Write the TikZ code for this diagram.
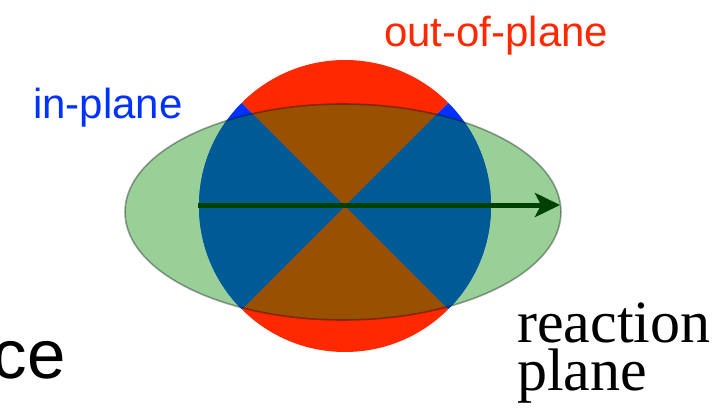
\documentclass[tikz,border=0pt]{standalone}
\usepackage{fontspec}
\setmainfont{Liberation Serif}
\newfontfamily\labelfont{Liberation Sans}
\usetikzlibrary{arrows.meta}
\definecolor{outred}{RGB}{255,40,0}
\definecolor{inblue}{RGB}{0,50,255}
\definecolor{leafgreen}{RGB}{152,208,152}
\definecolor{outbrown}{RGB}{153,80,0}
\definecolor{indeep}{RGB}{0,90,150}
\definecolor{axisgreen}{RGB}{0,64,0}
\tikzset{
  sanslabel/.style={inner sep=0pt,anchor=base west,font=\labelfont\fontsize{42}{50}\selectfont},
  seriflabel/.style={inner sep=0pt,anchor=base west,font=\fontsize{60}{48}\selectfont},
  rim/.style={draw=black,draw opacity=0.35,line width=1.6pt}
}

\begin{document}
\begin{tikzpicture}[x=1pt,y=-1pt,>=Stealth]
  \useasboundingbox (0,0) rectangle (717,417);
  \coordinate (c) at (345,206);
  \def\rad{146}
  % almond-shaped overlap region
  \fill[leafgreen] (343,212) ellipse [x radius=218, y radius=108];
  \foreach \a/\col in {45/outred,135/inblue,225/outred,315/inblue}
    \fill[\col] (c) -- ++(\a:\rad) arc[start angle=\a, end angle=\a+90, radius=\rad] -- cycle;
  \begin{scope}
    \clip (343,212) ellipse [x radius=218, y radius=108];
    \foreach \a/\col in {45/outbrown,135/indeep,225/outbrown,315/indeep}
      \fill[\col] (c) -- ++(\a:\rad) arc[start angle=\a, end angle=\a+90, radius=\rad] -- cycle;
  \end{scope}
  \path[rim] (343,212) ellipse [x radius=218, y radius=108];
  % reaction plane axis
  \coordinate (axis start) at (198,205);
  \coordinate (axis end) at (560,205);
  \draw[axisgreen,line width=5pt,-{Stealth[length=25pt,width=24pt,inset=6pt]}] (axis start) -- (axis end);
  \node[sanslabel,text=inblue] (in label) at (33,118) {in-plane};
  \node[sanslabel,text=outred] (out label) at (384,47) {out-of-plane};
  \node[seriflabel] (reaction label) at (517,342) {reaction};
  \node[seriflabel] (plane label) at (517,390) {plane};
  \node[inner sep=0pt,anchor=base east,font=\labelfont\fontsize{69}{80}\selectfont] (ce text) at (66,378) {ce};
\end{tikzpicture}
\end{document}
